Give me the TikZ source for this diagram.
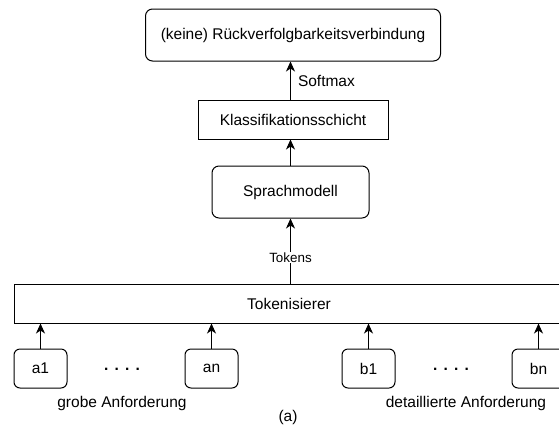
\documentclass[tikz,border=0pt]{standalone}
\usepackage{fontspec}
\setmainfont{Liberation Sans}
\usetikzlibrary{arrows.meta}
\tikzset{
  every node/.style={font=\fontsize{15.5}{18}\selectfont},
  box/.style={draw, line width=1pt, inner sep=0pt, align=center},
  rbox/.style={box, rounded corners=7pt},
  sbox/.style={rbox, rounded corners=6pt, minimum width=53pt, minimum height=39pt},
  arr/.style={line width=1pt, -{Stealth[length=10pt,width=9pt,inset=3pt]}},
  lbl/.style={inner sep=1pt},
}
\begin{document}
\begin{tikzpicture}[x=1pt,y=-1pt]
\useasboundingbox (0,0) rectangle (559,429);
\node[rbox, minimum width=295pt, minimum height=52pt] (out) at (293,35) {(keine) Rückverfolgbarkeitsverbindung};
\node[box, minimum width=190pt, minimum height=39pt] (cls) at (293,119.5) {Klassifikationsschicht};
\node[rbox, minimum width=157pt, minimum height=52pt] (lm) at (290.5,192) {Sprachmodell};
\node[box, minimum width=550pt, minimum height=39pt] (tok) at (289,303.5) {Tokenisierer};
\node[sbox] (a1) at (40.5,368.5) {a1};
\node[sbox] (an) at (211.5,368.5) {an};
\node[sbox] (b1) at (368.5,368.5) {b1};
\node[sbox] (bn) at (538.5,368.5) {bn};
\node (d1) at (122,369) {\textbf{.\hspace{0.4em}.\hspace{0.4em}.\hspace{0.4em}.}};
\node (d2) at (451,369) {\textbf{.\hspace{0.4em}.\hspace{0.4em}.\hspace{0.4em}.}};
\node (ga) at (122,403) {grobe Anforderung};
\node (da) at (466,403) {detaillierte Anforderung};
\node (cap) at (288,417) {(a)};
\draw[arr] (cls.north -| lm) -- node[lbl, right, xshift=6pt] (sm) {Softmax} (lm |- out.south);
\draw[arr] (lm.north) -- (lm |- cls.south);
\draw[arr] (lm |- tok.north) -- node[lbl, fill=white, font=\fontsize{13.4}{16}\selectfont, pos=0.4] (tk) {Tokens} (lm.south);
\draw[arr] (a1) -- (a1 |- tok.south);
\draw[arr] (an) -- (an |- tok.south);
\draw[arr] (b1) -- (b1 |- tok.south);
\draw[arr] (bn) -- (bn |- tok.south);
\end{tikzpicture}
\end{document}
